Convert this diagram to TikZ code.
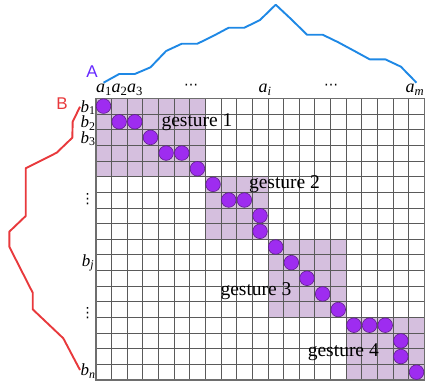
\documentclass[tikz,border=0pt]{standalone}
\usepackage{fontspec}
\setmainfont{Liberation Serif}
\setsansfont{Liberation Sans}
\newfontfamily\symfont{DejaVu Sans}
\definecolor{shadec}{RGB}{213,191,222}
\definecolor{dotc}{RGB}{158,44,240}
\definecolor{dotedge}{RGB}{95,30,140}
\definecolor{gridc}{RGB}{90,90,90}
\definecolor{bordc}{RGB}{110,110,110}
\definecolor{blueA}{RGB}{30,136,229}
\definecolor{redB}{RGB}{232,57,60}
\definecolor{labA}{RGB}{102,40,255}
\begin{document}
\begin{tikzpicture}[x=1pt,y=-1pt,
  gshade/.style={fill=shadec},
  gridline/.style={draw=gridc,line width=0.7pt},
  border/.style={draw=bordc,line width=1.6pt},
  dot/.style={circle,minimum size=14.6pt,inner sep=0pt,fill=dotc,draw=dotedge,line width=0.6pt},
  curveA/.style={draw=blueA,line width=1.9pt,line join=round},
  curveB/.style={draw=redB,line width=1.9pt,line join=round},
  axlab/.style={font=\fontsize{18}{18}\selectfont,inner sep=0pt},
  rowlab/.style={font=\fontsize{17}{17}\selectfont,inner sep=0pt},
  dotlab/.style={font=\fontsize{14}{14}\selectfont,inner sep=0pt},
  glab/.style={font=\fontsize{19.5}{19.5}\selectfont,inner sep=0pt,anchor=base},
  seqlab/.style={font=\sffamily\fontsize{17}{17}\selectfont,inner sep=0pt}]
\useasboundingbox (0,0) rectangle (425,383);
\def\gx{95.7}\def\gy{98.3}\def\cw{15.65}
% gesture areas
\fill[gshade] (\gx,\gy) rectangle ++(7*\cw,5*\cw);
\fill[gshade] ({\gx+7*\cw},{\gy+5*\cw}) rectangle ++(4*\cw,4*\cw);
\fill[gshade] ({\gx+11*\cw},{\gy+9*\cw}) rectangle ++(5*\cw,5*\cw);
\fill[gshade] ({\gx+16*\cw},{\gy+14*\cw}) rectangle ++(5*\cw,4*\cw);
% grid
\foreach \i in {0,...,21} \draw[gridline] ({\gx+\i*\cw},\gy) -- ++(0,18*\cw);
\foreach \j in {0,...,18} \draw[gridline] (\gx,{\gy+\j*\cw}) -- ++(21*\cw,0);
\draw[border] (\gx,\gy) rectangle ++(21*\cw,18*\cw);
% path dots
\foreach \cc/\rr [count=\k] in {0/0,1/1,2/1,3/2,4/3,5/3,6/4,7/5,8/6,9/6,10/7,10/8,11/9,12/10,13/11,14/12,15/13,16/14,17/14,18/14,19/15,19/16,20/17}
  \node[dot] (d\k) at ({\gx+(\cc+0.5)*\cw},{\gy+(\rr+0.5)*\cw}) {};
% gesture labels
\node[glab] (g1) at (197,126.5) {gesture 1};
\node[glab] (g2) at (284.5,188.3) {gesture 2};
\node[glab] (g3) at (256,295) {gesture 3};
\node[glab] (g4) at (343.3,356.7) {gesture 4};
% sequence A
\draw[curveA] plot coordinates {(103.5,82.7) (119.2,74) (134.8,74) (150.5,67.3) (166.1,51) (181.8,43.7) (197.4,43.7) (213.1,36) (228.7,27.7) (244.4,27.7) (260.0,20) (275.7,4.7) (291.3,19.3) (307.0,34.7) (322.6,34.7) (338.3,42.3) (353.9,50.7) (369.6,59.3) (385.2,59.3) (400.9,66.7) (416.5,82.7)};
% sequence B
\draw[curveB] plot coordinates {(80,106.7) (72.7,121.7) (72.3,137.7) (56.7,152.7) (25.7,168.3) (25.7,216) (9.3,231.7) (9.3,246.7) (32.7,292.7) (32.7,309.3) (63.3,338.3) (80,370)};
\node[seqlab,text=labA] (labA) at (92,72) {A};
\node[seqlab,text=redB] (labB) at (62,104) {B};
% column labels
\node[axlab] (a1) at (104,90) {\textit{a}\textsubscript{1}};
\node[axlab] (a2) at (119.5,90) {\textit{a}\textsubscript{2}};
\node[axlab] (a3) at (135,90) {\textit{a}\textsubscript{3}};
\node[dotlab] (ad1) at (191,87) {\symfont ⋯};
\node[axlab] (ai) at (265,90) {\textit{a}\textsubscript{\textit{i}}};
\node[dotlab] (ad2) at (331,87) {\symfont ⋯};
\node[axlab] (am) at (415,90) {\textit{a}\textsubscript{\textit{m}}};
% row labels
\node[rowlab] (b1) at (88,107.5) {\textit{b}\textsubscript{1}};
\node[rowlab] (b2) at (88,123) {\textit{b}\textsubscript{2}};
\node[rowlab] (b3) at (88,138.5) {\textit{b}\textsubscript{3}};
\node[dotlab] (bd1) at (87.5,199) {\symfont ⋮};
\node[rowlab] (bj) at (88,263) {\textit{b}\textsubscript{\textit{j}}};
\node[dotlab] (bd2) at (87.5,313) {\symfont ⋮};
\node[rowlab] (bn) at (88,371) {\textit{b}\textsubscript{\textit{n}}};
\end{tikzpicture}
\end{document}
